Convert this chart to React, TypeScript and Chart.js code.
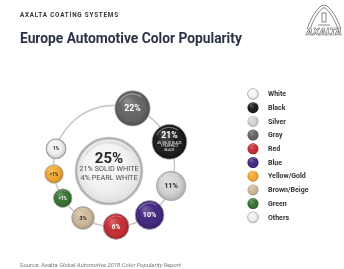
import React, { useEffect, useRef } from 'react';
import { Chart, registerables } from 'chart.js';

Chart.register(...registerables);

// ---- data ----
const categories = ['White', 'Black', 'Silver', 'Gray', 'Red', 'Blue', 'Yellow/Gold', 'Brown/Beige', 'Green', 'Others'];
const values = [25, 21, 11, 22, 6, 10, 0.5, 3, 0.5, 1];
const valueLabels = ['25%', '21%', '11%', '22%', '6%', '10%', '<1%', '3%', '<1%', '1%'];
const colors = ['#f7f7f7', '#121212', '#d3d3d3', '#5f5f5f', '#c3262c', '#3b1f7c', '#f2a42a', '#cdb797', '#2f6d2b', '#f1f1f1'];
// position of each bubble around the ring (degrees clockwise from top); null = hub
const ringAngles: (number | null)[] = [null, 66.4, 109.3, 17.8, 178, 144, 262.4, 210.8, 237.9, 286.6];
const whiteDetail = ['21% SOLID WHITE', '4% PEARL WHITE'];
const blackDetail = ['4% SOLID BLACK', '17% EFFECT', 'BLACK'];

// ---- layout ----
const W = 344;
const H = 269;
const RING = { cx: 114, cy: 166, r: 60.5 };
const HUB = { x: 109, y: 171, r: 33 };
const LIGHT = new Set(['White', 'Silver', 'Yellow/Gold', 'Brown/Beige', 'Others']);

function bubbleRadius(v: number) {
  return 7.8 + 2.1 * Math.sqrt(v);
}

function gloss(ctx: CanvasRenderingContext2D, x: number, y: number, r: number) {
  const g = ctx.createRadialGradient(x - r * 0.35, y - r * 0.45, 0, x, y, r);
  g.addColorStop(0, 'rgba(255,255,255,0.30)');
  g.addColorStop(0.55, 'rgba(255,255,255,0.04)');
  g.addColorStop(1, 'rgba(0,0,0,0.20)');
  ctx.save();
  ctx.beginPath();
  ctx.arc(x, y, r, 0, Math.PI * 2);
  ctx.fillStyle = g;
  ctx.fill();
  ctx.beginPath();
  ctx.arc(x, y, r * 0.82, Math.PI * 1.15, Math.PI * 1.7);
  ctx.strokeStyle = 'rgba(255,255,255,0.35)';
  ctx.lineWidth = Math.max(0.8, r * 0.07);
  ctx.stroke();
  ctx.restore();
}

const ringPlugin = {
  id: 'ring',
  beforeDatasetsDraw(chart: any) {
    const ctx = chart.ctx;
    const x = chart.scales.x.getPixelForValue(RING.cx);
    const y = chart.scales.y.getPixelForValue(RING.cy);
    ctx.save();
    ctx.beginPath();
    ctx.arc(x, y, RING.r, 0, Math.PI * 2);
    ctx.strokeStyle = '#c4c4c4';
    ctx.lineWidth = 1.4;
    ctx.stroke();
    ctx.restore();
  },
};

const labelPlugin = {
  id: 'bubbleLabels',
  afterDatasetsDraw(chart: any) {
    const ctx: CanvasRenderingContext2D = chart.ctx;
    const meta = chart.getDatasetMeta(0);
    meta.data.forEach((el: any, i: number) => {
      const x = el.x;
      const y = el.y;
      const r = el.options.radius;
      if (ringAngles[i] === null) {
        const g = ctx.createRadialGradient(x - r * 0.2, y - r * 0.3, r * 0.3, x, y, r);
        g.addColorStop(0, 'rgba(255,255,255,0)');
        g.addColorStop(1, 'rgba(0,0,0,0.10)');
        ctx.save();
        ctx.beginPath();
        ctx.arc(x, y, r, 0, Math.PI * 2);
        ctx.fillStyle = g;
        ctx.fill();
        ctx.beginPath();
        ctx.arc(x, y, r * 0.86, Math.PI * 1.2, Math.PI * 1.75);
        ctx.strokeStyle = 'rgba(200,200,200,0.6)';
        ctx.lineWidth = 1.2;
        ctx.stroke();
        ctx.textAlign = 'center';
        ctx.textBaseline = 'middle';
        ctx.fillStyle = '#2a2a2a';
        ctx.font = 'bold 15px Roboto';
        ctx.fillText(valueLabels[i], x, y - 12);
        ctx.fillStyle = '#4a4a4a';
        ctx.font = '7.3px Roboto';
        whiteDetail.forEach((t, k) => ctx.fillText(t, x, y - 2 + k * 9));
        ctx.restore();
        return;
      }
      gloss(ctx, x, y, r);
      const cat = categories[i];
      ctx.save();
      ctx.textAlign = 'center';
      ctx.textBaseline = 'middle';
      ctx.fillStyle = LIGHT.has(cat) ? '#2b2b2b' : '#ffffff';
      const fs = Math.max(4.2, r * 0.5);
      ctx.font = `bold ${fs.toFixed(1)}px Roboto`;
      if (cat === 'Black') {
        ctx.fillText(valueLabels[i], x, y - 6);
        ctx.font = '3.2px Roboto';
        blackDetail.forEach((t, k) => ctx.fillText(t, x, y + 1 + k * 3.8));
      } else {
        ctx.fillText(valueLabels[i], x, y + 0.5);
      }
      ctx.restore();
    });
  },
};

const legendPlugin = {
  id: 'customLegend',
  afterDraw(chart: any) {
    const ctx: CanvasRenderingContext2D = chart.ctx;
    const x0 = 253;
    const y0 = 94;
    const dy = 13.7;
    const cr = 5.5;
    categories.forEach((cat, i) => {
      const y = y0 + i * dy;
      ctx.save();
      ctx.beginPath();
      ctx.arc(x0, y, cr, 0, Math.PI * 2);
      ctx.fillStyle = colors[i];
      ctx.fill();
      if (cat === 'White' || cat === 'Others') {
        ctx.strokeStyle = '#c2c2c2';
        ctx.lineWidth = 0.8;
        ctx.stroke();
      }
      ctx.restore();
      gloss(ctx, x0, y, cr);
      ctx.save();
      ctx.fillStyle = '#333';
      ctx.font = 'bold 7px Roboto';
      ctx.textAlign = 'left';
      ctx.textBaseline = 'middle';
      ctx.fillText(cat, 268, y + 0.5);
      ctx.restore();
    });
  },
};

const logoPlugin = {
  id: 'logo',
  afterDraw(chart: any) {
    const ctx: CanvasRenderingContext2D = chart.ctx;
    ctx.save();
    ctx.strokeStyle = '#6a6a6a';
    ctx.lineWidth = 0.8;
    ctx.beginPath();
    ctx.moveTo(307, 29);
    ctx.quadraticCurveTo(313, 12, 321, 6);
    ctx.quadraticCurveTo(324, 4, 327, 6);
    ctx.quadraticCurveTo(335, 12, 341, 29);
    ctx.stroke();
    ctx.beginPath();
    ctx.moveTo(310, 29);
    ctx.quadraticCurveTo(315, 15, 322, 8.5);
    ctx.quadraticCurveTo(324, 7, 326, 8.5);
    ctx.quadraticCurveTo(333, 15, 338, 29);
    ctx.stroke();
    ctx.strokeRect(322, 13, 4, 9);
    ctx.beginPath();
    ctx.moveTo(318, 25);
    ctx.lineTo(330, 25);
    ctx.stroke();
    ctx.font = 'italic bold 8.5px "DejaVu Sans"';
    ctx.textAlign = 'center';
    ctx.textBaseline = 'middle';
    ctx.lineWidth = 0.6;
    ctx.fillStyle = '#ffffff';
    ctx.fillText('AXALTA', 324, 33);
    ctx.strokeText('AXALTA', 324, 33);
    ctx.restore();
  },
};

export default function App() {
  const canvasRef = useRef<HTMLCanvasElement>(null);

  useEffect(() => {
    document.body.style.margin = '0';
    const points = values.map((v, i) => {
      const a = ringAngles[i];
      if (a === null) return { x: HUB.x, y: HUB.y, r: HUB.r };
      const rad = (a * Math.PI) / 180;
      return {
        x: RING.cx + RING.r * Math.sin(rad),
        y: RING.cy - RING.r * Math.cos(rad),
        r: bubbleRadius(v),
      };
    });
    const chart = new Chart(canvasRef.current!, {
      type: 'bubble',
      data: {
        labels: categories,
        datasets: [
          {
            label: 'Color popularity',
            data: points,
            backgroundColor: colors,
            borderColor: categories.map((c) =>
              c === 'White' ? '#bdbdbd' : c === 'Others' ? '#b8b8b8' : 'rgba(200,200,200,0.9)'
            ),
            borderWidth: categories.map((c) => (c === 'White' ? 2.5 : c === 'Others' ? 1.2 : 1)),
            clip: false as any,
          } as any,
        ],
      },
      options: {
        responsive: false,
        animation: false,
        events: [],
        layout: { padding: 0, autoPadding: false } as any,
        scales: {
          x: { type: 'linear', min: 0, max: W, display: false },
          y: { type: 'linear', min: 0, max: H, reverse: true, display: false },
        },
        plugins: {
          legend: { display: false },
          tooltip: { enabled: false },
          title: { display: false },
        },
      },
      plugins: [ringPlugin, labelPlugin, legendPlugin, logoPlugin],
    });
    return () => chart.destroy();
  }, []);

  return (
    <div style={{ position: 'fixed', left: 0, top: 0, width: W, height: H, background: '#fff', overflow: 'hidden' }}>
      <canvas ref={canvasRef} width={W} height={H} style={{ position: 'absolute', left: 0, top: 0 }} />
      <div
        style={{
          position: 'absolute',
          left: 20,
          top: 11,
          font: 'bold 6.3px Roboto',
          letterSpacing: '0.8px',
          color: '#333',
          lineHeight: '8px',
          whiteSpace: 'nowrap',
        }}
      >
        AXALTA COATING SYSTEMS
      </div>
      <div
        style={{
          position: 'absolute',
          left: 20,
          top: 30,
          font: 'bold 13.8px Roboto',
          color: '#2b3245',
          lineHeight: '16px',
          whiteSpace: 'nowrap',
        }}
      >
        Europe Automotive Color Popularity
      </div>
      <div
        style={{
          position: 'absolute',
          left: 20,
          top: 262,
          font: '5.9px Roboto',
          color: '#777',
          lineHeight: '7px',
          whiteSpace: 'nowrap',
        }}
      >
        Source: Axalta <i>Global Automotive 2018 Color Popularity Report</i>
      </div>
    </div>
  );
}
